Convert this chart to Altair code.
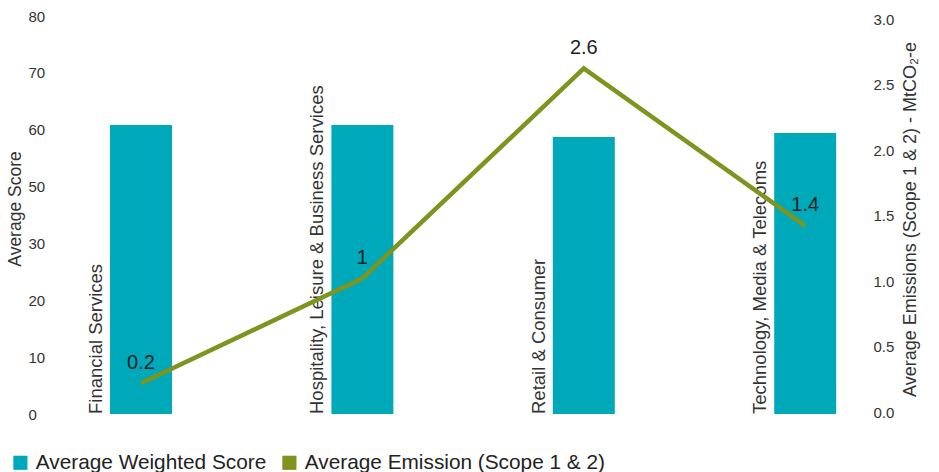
import altair as alt
import pandas as pd

# ---- data -------------------------------------------------------------
categories = [
    "Financial Services",
    "Hospitality, Leisure & Business Services",
    "Retail & Consumer",
    "Technology, Media & Telecoms",
]
avg_weighted_score = [58.1, 58.1, 55.7, 56.5]
avg_emission = [0.2, 1.0, 2.6, 1.4]
series_names = ["Average Weighted Score", "Average Emission (Scope 1 & 2)"]
score_tick_labels = ["0", "10", "20", "30", "50", "60", "70", "80"]
emission_ticks = [0.0, 0.5, 1.0, 1.5, 2.0, 2.5, 3.0]

# ---- style ------------------------------------------------------------
TEAL = "#00A9BA"
OLIVE = "#7D951E"
FONT = "Liberation Sans"
AXIS_TEXT = "#333333"
DARK_TEXT = "#222222"

W, H = 800, 398
PAD_LEFT, PAD_TOP = 60, 16

score_max = 80
n_ticks = len(score_tick_labels)
score_tick_values = [score_max * i / (n_ticks - 1) for i in range(n_ticks)]
score_label_expr = (
    "[" + ",".join(f"'{s}'" for s in score_tick_labels) + "]"
    + f"[round(datum.value * {n_ticks - 1} / {score_max})]"
)

score_df = pd.DataFrame(
    {"category": categories, "score": avg_weighted_score, "series": series_names[0]}
)
emission_df = pd.DataFrame(
    {"category": categories, "emission": avg_emission, "series": series_names[1]}
)

x_scale = alt.Scale(
    domain=categories, range=[-29.7, 855.9], paddingInner=0.72, paddingOuter=0.36
)
x_enc = alt.X("category:N", scale=x_scale, axis=None, sort=categories)

color_scale = alt.Scale(domain=series_names, range=[TEAL, OLIVE])

score_axis = alt.Axis(
    values=score_tick_values,
    labelExpr=score_label_expr,
    labelAlign="left",
    labelPadding=32,
    ticks=False,
    tickSize=0,
    domain=False,
    grid=False,
    labelFont=FONT,
    labelFontSize=15,
    labelColor=AXIS_TEXT,
    title="Average Score",
    titleFont=FONT,
    titleFontSize=17.5,
    titleFontWeight="normal",
    titleColor=AXIS_TEXT,
    titleAngle=270,
    titleAlign="center",
    titleBaseline="middle",
    titleX=-44.5,
    titleY=192.5,
)

emission_axis = alt.Axis(
    orient="right",
    values=emission_ticks,
    format=".1f",
    labelAlign="left",
    labelPadding=13,
    labelOffset=3,
    ticks=False,
    tickSize=0,
    domain=False,
    grid=False,
    labelFont=FONT,
    labelFontSize=15,
    labelColor=AXIS_TEXT,
    title="Average Emissions (Scope 1 & 2) - MtCO\u2082-e",
    titleFont=FONT,
    titleFontSize=18,
    titleFontWeight="normal",
    titleColor=AXIS_TEXT,
    titleAngle=270,
    titleAlign="center",
    titleBaseline="middle",
    titleX=50,
    titleY=203,
)

score_scale = alt.Scale(domain=[0, score_max], nice=False, zero=True)
emission_scale = alt.Scale(domain=[-0.035, 3.0], nice=False, zero=False)

bars = alt.Chart(score_df).mark_bar().encode(
    x=x_enc,
    y=alt.Y("score:Q", scale=score_scale, axis=score_axis),
    color=alt.Color(
        "series:N",
        scale=color_scale,
        legend=alt.Legend(
            orient="none",
            legendX=-50,
            legendY=436,
            direction="horizontal",
            title=None,
            symbolType="square",
            symbolSize=200,
            symbolStrokeWidth=0,
            symbolOpacity=1,
            labelFont=FONT,
            labelFontSize=20.8,
            labelColor=DARK_TEXT,
            labelLimit=600,
            labelOffset=5,
            columnPadding=12,
            padding=0,
        ),
    ),
)

# category names written vertically beside each bar
category_text = alt.Chart(score_df).mark_text(
    angle=270,
    align="left",
    baseline="middle",
    dy=-45,
    font=FONT,
    fontSize=18.5,
    color=AXIS_TEXT,
).encode(
    x=x_enc,
    y=alt.Y("score:Q", scale=score_scale, axis=score_axis),
    text="category:N",
).transform_calculate(score="0")

line = alt.Chart(emission_df).mark_line(strokeWidth=4.5).encode(
    x=x_enc,
    y=alt.Y("emission:Q", scale=emission_scale, axis=emission_axis),
    color=alt.Color("series:N", scale=color_scale, legend=None),
)

line_labels = alt.Chart(emission_df).mark_text(
    dy=-20.5,
    font=FONT,
    fontSize=20,
    color=DARK_TEXT,
).encode(
    x=x_enc,
    y=alt.Y("emission:Q", scale=emission_scale, axis=emission_axis),
    text=alt.Text("emission:Q", format="~g"),
)

chart = (
    alt.layer(
        alt.layer(bars, category_text),
        alt.layer(line, line_labels),
    )
    .resolve_scale(y="independent")
    .properties(
        width=W,
        height=H,
        autosize=alt.AutoSizeParams(type="none"),
        padding={
            "left": PAD_LEFT,
            "top": PAD_TOP,
            "right": 939 - PAD_LEFT - W,
            "bottom": 472 - PAD_TOP - H,
        },
        background="white",
    )
    .configure_view(stroke=None)
)

chart.save("out.html", embed_options={"renderer": "svg", "actions": False})
